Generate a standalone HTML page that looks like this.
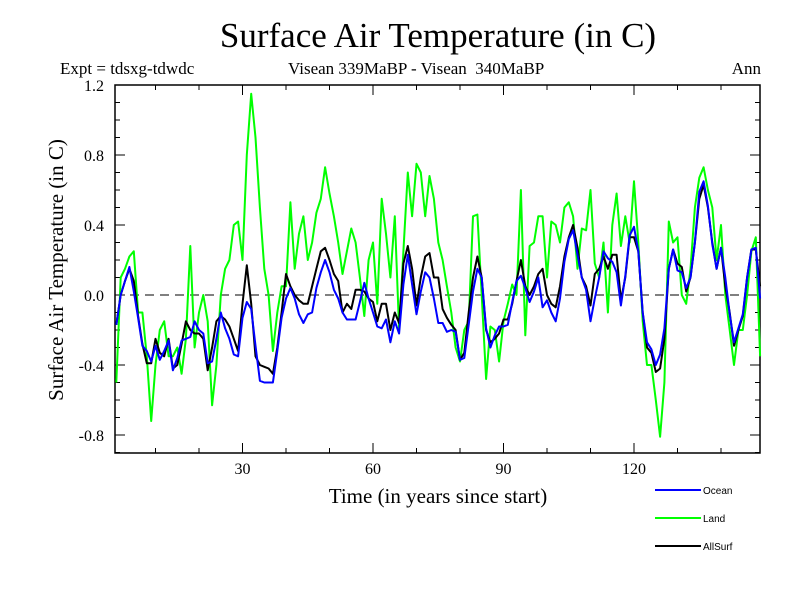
<!DOCTYPE html>
<html><head><meta charset="utf-8"><style>
body{margin:0;background:#fff;}
svg{display:block;}
text{font-family:"Liberation Serif",serif;fill:#000;}
</style></head><body>
<svg id="c" width="800" height="600" viewBox="0 0 800 600">
<text x="438" y="47" font-size="35" text-anchor="middle">Surface Air Temperature (in C)</text>
<text x="60" y="74" font-size="17">Expt = tdsxg-tdwdc</text>
<text x="288" y="74" font-size="17">Visean 339MaBP - Visean &#160;340MaBP</text>
<text x="761" y="74" font-size="17" text-anchor="end">Ann</text>
<text x="0" y="0" font-size="21" text-anchor="middle" transform="translate(63,270) rotate(-90)">Surface Air Temperature (in C)</text>
<text x="438" y="503" font-size="21" text-anchor="middle">Time (in years since start)</text>
<g id="axes"></g>
<g id="series"></g>
<g id="legend"></g>
</svg>
<script>
const ocean=[-0.17,0.0,0.08,0.16,0.02,-0.13,-0.29,-0.32,-0.38,-0.29,-0.37,-0.32,-0.26,-0.43,-0.36,-0.26,-0.25,-0.24,-0.15,-0.2,-0.22,-0.39,-0.38,-0.25,-0.1,-0.19,-0.25,-0.34,-0.35,-0.13,-0.04,-0.08,-0.29,-0.49,-0.5,-0.5,-0.5,-0.32,-0.13,-0.02,0.04,-0.02,-0.11,-0.16,-0.11,-0.1,0.04,0.13,0.2,0.13,0.03,-0.02,-0.1,-0.14,-0.14,-0.14,-0.04,0.07,-0.02,-0.1,-0.18,-0.19,-0.14,-0.27,-0.15,-0.22,0.06,0.23,0.06,-0.11,0.02,0.13,0.1,-0.02,-0.16,-0.16,-0.21,-0.2,-0.21,-0.37,-0.36,-0.17,0.02,0.15,0.1,-0.19,-0.3,-0.23,-0.18,-0.18,-0.17,-0.04,0.08,0.11,0.04,-0.04,0.02,0.1,-0.07,-0.03,-0.1,-0.15,-0.02,0.19,0.32,0.37,0.23,0.1,0.03,-0.15,-0.02,0.1,0.25,0.21,0.19,0.13,-0.06,0.11,0.34,0.39,0.25,-0.1,-0.27,-0.31,-0.4,-0.34,-0.19,0.15,0.26,0.14,0.13,0.04,0.1,0.3,0.59,0.65,0.51,0.29,0.15,0.27,0.1,-0.11,-0.27,-0.19,-0.11,0.1,0.26,0.27,-0.02];
const land=[-0.5,0.1,0.15,0.22,0.25,-0.1,-0.1,-0.35,-0.72,-0.4,-0.2,-0.15,-0.35,-0.35,-0.3,-0.45,-0.25,0.28,-0.3,-0.1,0.0,-0.15,-0.63,-0.4,0.0,0.15,0.2,0.4,0.42,0.2,0.8,1.15,0.9,0.5,0.15,0.0,-0.32,-0.1,0.05,0.05,0.53,0.15,0.35,0.45,0.2,0.3,0.47,0.55,0.73,0.58,0.45,0.3,0.12,0.25,0.38,0.3,0.1,-0.12,0.2,0.3,-0.05,0.55,0.35,0.1,0.45,-0.2,0.25,0.7,0.45,0.75,0.7,0.45,0.68,0.55,0.3,0.2,0.05,-0.1,-0.3,-0.38,-0.2,-0.15,0.45,0.46,0.0,-0.48,-0.18,-0.2,-0.38,-0.15,-0.05,0.06,0.0,0.6,-0.23,0.28,0.3,0.45,0.45,0.1,0.42,0.4,0.3,0.5,0.53,0.45,0.15,0.38,0.37,0.6,0.18,0.1,0.3,-0.1,0.4,0.58,0.28,0.45,0.3,0.65,0.3,-0.15,-0.4,-0.4,-0.6,-0.81,-0.5,0.42,0.3,0.33,0.0,-0.05,0.15,0.5,0.67,0.73,0.6,0.5,0.2,0.4,0.0,-0.2,-0.4,-0.2,-0.2,0.0,0.25,0.33,-0.35];
const allsurf=[-0.17,0.0,0.08,0.15,0.08,-0.12,-0.28,-0.39,-0.39,-0.25,-0.33,-0.35,-0.25,-0.42,-0.4,-0.28,-0.15,-0.2,-0.22,-0.22,-0.25,-0.43,-0.3,-0.15,-0.12,-0.14,-0.18,-0.25,-0.32,-0.05,0.17,-0.05,-0.35,-0.4,-0.41,-0.42,-0.45,-0.3,-0.1,0.12,0.05,0.0,-0.03,-0.05,-0.05,0.05,0.15,0.25,0.27,0.2,0.12,0.08,-0.1,-0.05,-0.08,0.03,0.03,0.02,-0.02,-0.04,-0.15,-0.05,-0.05,-0.2,-0.1,-0.16,0.18,0.28,0.15,-0.06,0.1,0.22,0.24,0.1,0.1,-0.08,-0.13,-0.17,-0.2,-0.37,-0.33,-0.1,0.1,0.22,0.1,-0.2,-0.27,-0.25,-0.22,-0.14,-0.14,-0.05,0.08,0.2,0.05,0.0,0.05,0.12,0.15,0.0,-0.05,-0.07,0.05,0.22,0.33,0.4,0.27,0.1,0.05,-0.06,0.12,0.15,0.22,0.15,0.23,0.23,-0.03,0.1,0.33,0.33,0.25,-0.1,-0.3,-0.33,-0.44,-0.42,-0.25,0.15,0.26,0.18,0.16,0.02,0.1,0.3,0.55,0.63,0.5,0.3,0.15,0.27,0.05,-0.1,-0.29,-0.2,-0.12,0.1,0.26,0.26,0.05];
const yTickLabels=["-0.8","-0.4","0.0","0.4","0.8","1.2"];
const yTickValues=[-0.8,-0.4,0,0.4,0.8,1.2];
const xTickLabels=["30","60","90","120"];
const xTickValues=[30,60,90,120];
const seriesNames=["Ocean","Land","AllSurf"];
const seriesColors=["#0000ff","#00ff00","#000000"];

const NS="http://www.w3.org/2000/svg";
const L=115,R=760,T=85,B=453;
const xs=t=>112+4.35*t;
const ys=v=>295-175*v;
function mk(tag,attrs,parent){const e=document.createElementNS(NS,tag);for(const k in attrs)e.setAttribute(k,attrs[k]);parent.appendChild(e);return e;}
const ax=document.getElementById('axes');
const frame=mk('rect',{x:L,y:T,width:R-L,height:B-T,fill:'none',stroke:'#000','stroke-width':1.5},ax);


for(let v=-0.9;v<=1.2001;v+=0.1){
  const y=ys(v);const major=Math.abs(Math.round(v*10)%4)===0;const len=major?10:5;
  const t1=mk('line',{x1:L,x2:L+len,y1:y,y2:y,stroke:'#000','stroke-width':1},ax);
  
  
  const t2=mk('line',{x1:R,x2:R-len,y1:y,y2:y,stroke:'#000','stroke-width':1},ax);
  
  
}
yTickValues.forEach((v,i)=>{
  const t=mk('text',{x:104,y:ys(v)+6,'font-size':16,'text-anchor':'end'},ax);t.textContent=yTickLabels[i];
  
  
});
for(let yr=10;yr<=140;yr+=10){
  const x=xs(yr);const len=yr%30===0?10:5;
  const a=mk('line',{x1:x,x2:x,y1:B,y2:B-len,stroke:'#000','stroke-width':1},ax);
  
  
  const b=mk('line',{x1:x,x2:x,y1:T,y2:T+len,stroke:'#000','stroke-width':1},ax);
  
  
}
xTickValues.forEach((v,i)=>{
  const t=mk('text',{x:xs(v),y:474,'font-size':16,'text-anchor':'middle'},ax);t.textContent=xTickLabels[i];
  
  
});
const zl=mk('line',{x1:L,x2:R,y1:ys(0),y2:ys(0),stroke:'#000','stroke-width':1,'stroke-dasharray':'9,6'},ax);



const sg=document.getElementById('series');
[land,allsurf,ocean].forEach(arr=>{
  const idx=arr===ocean?0:arr===land?1:2;
  const pts=arr.map((v,i)=>xs(i+1).toFixed(1)+','+ys(v).toFixed(1)).join(' ');
  const p=mk('polyline',{points:pts,fill:'none',stroke:seriesColors[idx],'stroke-width':2,'stroke-linejoin':'round'},sg);
  
  
});
const lg=document.getElementById('legend');
seriesNames.forEach((n,i)=>{
  const y=490+28*i;
  const l=mk('line',{x1:655,x2:701,y1:y,y2:y,stroke:seriesColors[i],'stroke-width':2},lg);
  
  
  const t=mk('text',{x:703,y:y+4,'font-size':10,style:'font-family:"Liberation Sans",sans-serif'},lg);t.textContent=n;
  
  
});
</script>
</body></html>
